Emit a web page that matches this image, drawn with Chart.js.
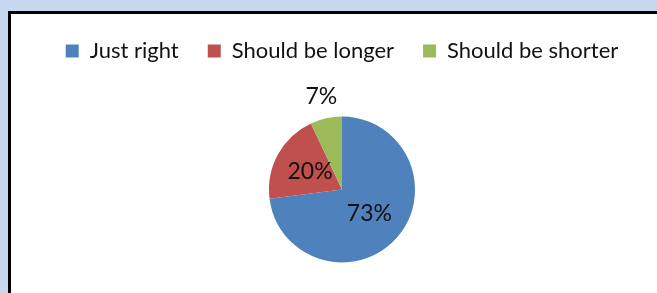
<!DOCTYPE html>
<html>
<head>
<meta charset="utf-8">
<script src="https://cdn.jsdelivr.net/npm/chart.js@4"></script>
<style>
  html, body { margin: 0; padding: 0; width: 657px; height: 293px; overflow: hidden; background: #c6d9f1; }
  #frame { position: absolute; left: 8px; top: 11px; width: 700px; height: 320px; background: #ffffff;
           border-left: 3px solid #000; border-top: 3px solid #000; }
  #c { position: absolute; left: 14px; top: 11px; }
</style>
</head>
<body>
<div id="frame"></div>
<canvas id="c" width="656" height="296"></canvas>
<script>
const categories = ["Just right", "Should be longer", "Should be shorter"];
const values = [73, 20, 7];
const colors = ["#4f81bd", "#c0504d", "#9bbb59"];

const FONT = "Lato, 'Open Sans', sans-serif";

const pctLabels = {
  id: 'pctLabels',
  afterDatasetsDraw(chart) {
    const ctx = chart.ctx;
    const meta = chart.getDatasetMeta(0);
    const total = values.reduce((a, b) => a + b, 0);
    ctx.save();
    ctx.font = "23px " + FONT;
    ctx.fillStyle = "#111111";
    ctx.textAlign = "center";
    ctx.textBaseline = "middle";
    meta.data.forEach((arc, i) => {
      const p = arc.getProps(['x', 'y', 'startAngle', 'endAngle', 'outerRadius'], true);
      const mid = (p.startAngle + p.endAngle) / 2;
      const share = values[i] / total;
      const f = share < 0.1 ? 1.3 : 0.5;
      const x = p.x + Math.cos(mid) * p.outerRadius * f;
      const y = p.y + Math.sin(mid) * p.outerRadius * f;
      ctx.fillText(Math.round(share * 100) + "%", x, y);
    });
    ctx.restore();
  }
};

new Chart(document.getElementById('c'), {
  type: 'pie',
  data: {
    labels: categories,
    datasets: [{
      data: values,
      backgroundColor: colors,
      borderWidth: 0,
      radius: 73
    }]
  },
  options: {
    responsive: false,
    devicePixelRatio: 1,
    animation: false,
    layout: { padding: 0 },
    plugins: {
      tooltip: { enabled: false },
      legend: {
        position: 'top',
        labels: {
          boxWidth: 13,
          boxHeight: 13,
          padding: 29,
          color: "#111111",
          font: { family: FONT, size: 22 }
        }
      }
    }
  },
  plugins: [pctLabels]
});
</script>
</body>
</html>
